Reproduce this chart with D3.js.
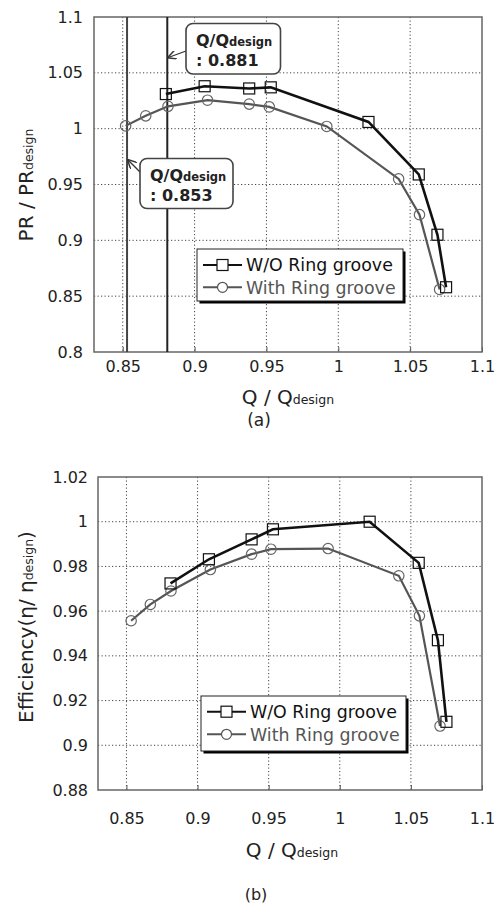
<!DOCTYPE html>
<html><head><meta charset="utf-8">
<script src="https://cdn.jsdelivr.net/npm/d3@7"></script>
<style>body{margin:0;background:#fff}svg{display:block}text{font-family:"DejaVu Sans",sans-serif}</style>
</head><body>
<script>
// Top chart (a): pressure ratio
const prWoQ = [0.880,0.907,0.938,0.953,1.021,1.056,1.069,1.075];
const prWo  = [1.031,1.038,1.036,1.037,1.006,0.959,0.905,0.858];
const prWithQ = [0.852,0.866,0.8815,0.909,0.938,0.952,0.992,1.042,1.0565,1.0705];
const prWith  = [1.0025,1.0115,1.020,1.0255,1.022,1.0195,1.002,0.955,0.923,0.856];
// Bottom chart (b): efficiency
const effWoQ = [0.881,0.908,0.938,0.953,1.021,1.0555,1.069,1.075];
const effWo  = [0.9724,0.9832,0.9921,0.9966,1.0000,0.9816,0.9470,0.9105];
const effWithQ = [0.8533,0.8668,0.8813,0.909,0.938,0.9516,0.9918,1.0415,1.056,1.0705];
const effWith  = [0.9557,0.9630,0.9690,0.9786,0.9855,0.9877,0.9880,0.9758,0.9579,0.9086];
const xTicks = [0.85,0.9,0.95,1,1.05,1.1];
const prTicks = [0.8,0.85,0.9,0.95,1,1.05,1.1];
const effTicks = [0.88,0.9,0.92,0.94,0.96,0.98,1,1.02];
const markers = [0.853, 0.881];
const seriesNames = ["W/O Ring groove","With Ring groove"];

const svg = d3.select("body").append("svg").attr("width",499).attr("height",904);
const FONT = "DejaVu Sans, sans-serif";

function panel(cfg){
  const x = d3.scaleLinear().domain([0.83,1.1]).range([cfg.l,cfg.r]);
  const y = d3.scaleLinear().domain(cfg.yDom).range([cfg.b,cfg.t]);
  const g = svg.append("g");
  g.selectAll(".gx").data(xTicks.slice(0,-1)).join("line")
    .attr("x1",d=>x(d)).attr("x2",d=>x(d)).attr("y1",cfg.t).attr("y2",cfg.b)
    .attr("stroke","#444").attr("stroke-width",1).attr("stroke-dasharray","1.2,2.3");
  g.selectAll(".gy").data(cfg.yTicks.slice(1,-1)).join("line")
    .attr("y1",d=>y(d)).attr("y2",d=>y(d)).attr("x1",cfg.l).attr("x2",cfg.r)
    .attr("stroke","#444").attr("stroke-width",1).attr("stroke-dasharray","1.2,2.3");
  const ax = g.append("g").attr("transform",`translate(0,${cfg.b})`)
    .call(d3.axisBottom(x).tickValues(xTicks).tickSize(-5).tickPadding(cfg.xpad).tickFormat(d=>String(+d.toFixed(2))));
  ax.select(".domain").remove();
  ax.selectAll("line").attr("stroke","#555");
  ax.selectAll("text").attr("font-size",16).attr("fill","#222").attr("font-family",FONT);
  const ay = g.append("g").attr("transform",`translate(${cfg.l},0)`)
    .call(d3.axisLeft(y).tickValues(cfg.yTicks).tickSize(0).tickPadding(cfg.ypad).tickFormat(d=>String(+d.toFixed(2))));
  ay.select(".domain").remove();
  ay.selectAll("text").attr("font-size",16).attr("fill","#222").attr("font-family",FONT);
  g.append("rect").attr("x",cfg.l).attr("y",cfg.t).attr("width",cfg.r-cfg.l).attr("height",cfg.b-cfg.t)
    .attr("fill","none").attr("stroke","#666").attr("stroke-width",1.5);
  return {x,y,g};
}

function series(p, qs, vs, color, width, shape){
  const data = qs.map((q,i)=>[q,vs[i]]);
  p.g.append("path").datum(data).attr("fill","none").attr("stroke",color).attr("stroke-width",width)
    .attr("d",d3.line().x(d=>p.x(d[0])).y(d=>p.y(d[1])));
  if(shape==="sq"){
    p.g.selectAll(null).data(data).join("rect")
      .attr("x",d=>p.x(d[0])-5.5).attr("y",d=>p.y(d[1])-5.5).attr("width",11).attr("height",11)
      .attr("fill","none").attr("stroke","#111").attr("stroke-width",1.2);
  } else {
    p.g.selectAll(null).data(data).join("circle")
      .attr("cx",d=>p.x(d[0])).attr("cy",d=>p.y(d[1])).attr("r",5.2)
      .attr("fill","none").attr("stroke","#666").attr("stroke-width",1.2);
  }
}

function legend(x0,y0,w,h,r1,dy){
  const g = svg.append("g");
  g.append("rect").attr("x",x0+2.5).attr("y",y0+2.5).attr("width",w).attr("height",h).attr("fill","#000");
  g.append("rect").attr("x",x0).attr("y",y0).attr("width",w).attr("height",h).attr("fill","#fff").attr("stroke","#222").attr("stroke-width",1);
  const rows=[{c:"#111",s:"sq",tc:"#111"},{c:"#555",s:"ci",tc:"#555"}];
  rows.forEach((r,i)=>{
    const cy = r1+i*dy;
    g.append("line").attr("x1",x0+6).attr("x2",x0+45).attr("y1",cy).attr("y2",cy).attr("stroke",r.c).attr("stroke-width",2);
    if(r.s==="sq") g.append("rect").attr("x",x0+20).attr("y",cy-5.5).attr("width",11).attr("height",11).attr("fill","#fff").attr("stroke","#111").attr("stroke-width",1.2);
    else g.append("circle").attr("cx",x0+25.5).attr("cy",cy).attr("r",5).attr("fill","#fff").attr("stroke","#555").attr("stroke-width",1.2);
    g.append("text").attr("x",x0+49).attr("y",cy+6.3).attr("font-size",17.4).attr("fill",r.tc).text(seriesNames[i]);
  });
}

function xLabel(cx,base){
  const t = svg.append("text").attr("x",cx).attr("y",base).attr("text-anchor","middle").attr("fill","#222").attr("font-size",20);
  t.append("tspan").text("Q / Q");
  t.append("tspan").attr("font-size",12.5).text("design");
}

// ---- Panel (a)
const pa = panel({l:94,r:482,t:17,b:352,yDom:[0.8,1.1],yTicks:prTicks,ypad:11,xpad:9});
pa.g.selectAll(".vm").data(markers).join("line")
  .attr("x1",d=>pa.x(d)).attr("x2",d=>pa.x(d)).attr("y1",17).attr("y2",352)
  .attr("stroke",(d,i)=>i===0?"#444":"#222").attr("stroke-width",2);
series(pa, prWithQ, prWith, "#555", 2.2, "ci");
series(pa, prWoQ, prWo, "#111", 2.6, "sq");
legend(197,249,206,52,265,22.3);

svg.append("defs").append("marker").attr("id","ah").attr("viewBox","0 0 10 10").attr("refX",9).attr("refY",5)
  .attr("markerWidth",7).attr("markerHeight",7).attr("orient","auto")
  .append("path").attr("d","M0,0 L10,5 L0,10").attr("fill","none").attr("stroke","#333").attr("stroke-width",1.6);
function annot(bx,by,bw,bh,val,ax1,ay1,ax2,ay2){
  svg.append("line").attr("x1",ax1).attr("y1",ay1).attr("x2",ax2).attr("y2",ay2)
    .attr("stroke","#333").attr("stroke-width",1.3).attr("marker-end","url(#ah)");
  svg.append("rect").attr("x",bx).attr("y",by).attr("width",bw).attr("height",bh).attr("rx",7)
    .attr("fill","#fff").attr("stroke","#444").attr("stroke-width",1.6);
  const t = svg.append("text").attr("x",bx+10).attr("y",by+22.5).attr("font-size",16).attr("font-weight","bold").attr("fill","#222")
    .attr("font-family","Liberation Sans, Arial, sans-serif");
  t.append("tspan").text("Q/Q");
  t.append("tspan").attr("font-size",11.5).text("design");
  svg.append("text").attr("x",bx+10).attr("y",by+42).attr("font-size",16).attr("font-weight","bold").attr("fill","#222")
    .attr("font-family","Liberation Sans, Arial, sans-serif").text(": "+val);
}
annot(186,23.5,94.5,50.5,"0.881",186,51,pa.x(0.881)+1,57.5);
annot(140,158.5,93,50,"0.853",141,173,pa.x(0.853)+1,160);

svg.append("text").attr("transform","translate(33,185) rotate(-90)").attr("text-anchor","middle").attr("fill","#222").attr("font-size",20)
  .call(t=>{t.append("tspan").text("PR / PR");t.append("tspan").attr("font-size",12.5).text("design");});
xLabel(288,404);
svg.append("text").attr("x",259).attr("y",426).attr("text-anchor","middle").attr("font-family","Liberation Serif, serif").attr("font-size",17).attr("fill","#222").text("(a)");

// ---- Panel (b)
const pb = panel({l:98,r:482,t:477,b:790,yDom:[0.88,1.02],yTicks:effTicks,ypad:10,xpad:23});
series(pb, effWithQ, effWith, "#555", 2.2, "ci");
series(pb, effWoQ, effWo, "#111", 2.6, "sq");
legend(201,696,205,55,711.7,22.6);
svg.append("text").attr("transform","translate(33,627) rotate(-90)").attr("text-anchor","middle").attr("fill","#222").attr("font-size",20)
  .call(t=>{t.append("tspan").text("Efficiency(η/ η");t.append("tspan").attr("font-size",12.5).text("design");t.append("tspan").text(")");});
xLabel(292,857);
svg.append("text").attr("x",256).attr("y",900).attr("text-anchor","middle").attr("font-size",16).attr("fill","#222").text("(b)");
</script>
</body></html>
